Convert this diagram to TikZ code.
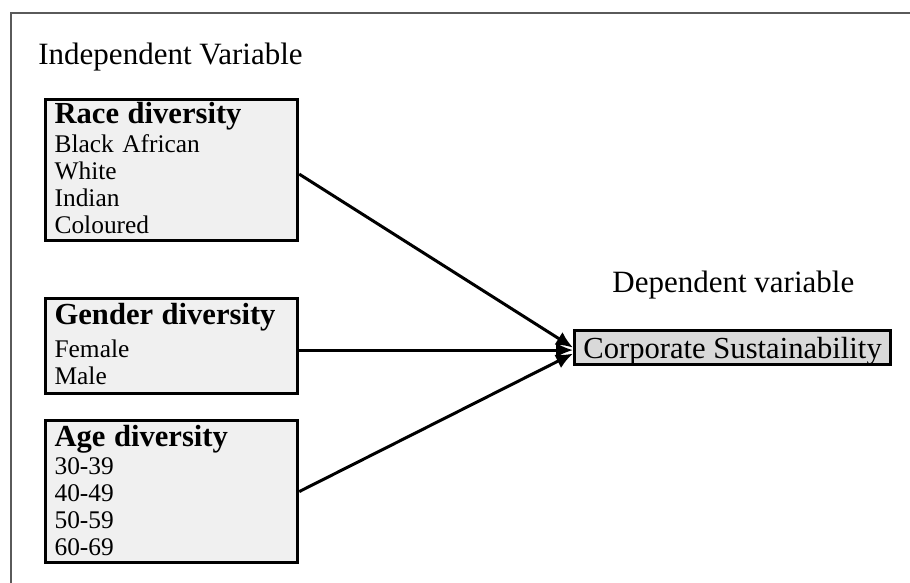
\documentclass[tikz,border=0pt]{standalone}
\usepackage{fontspec}
\setmainfont{Liberation Serif}
\usetikzlibrary{arrows.meta}
\definecolor{boxgray}{HTML}{F0F0F0}
\definecolor{depgray}{HTML}{D9D9D9}
\definecolor{framegray}{HTML}{5A5A5A}
\newcommand{\vhead}[1]{{\fontsize{15.3}{15}\selectfont\bfseries #1}}
\tikzset{
  frameline/.style={draw=framegray, line width=1.2pt},
  caption/.style={anchor=base west, inner sep=0pt, font=\fontsize{15.5}{16}\selectfont},
  varbox/.style={draw, line width=1.6pt, fill=boxgray, anchor=north west,
    align=left, text width=117pt, inner xsep=4.5pt, inner ysep=0pt,
    font=\fontsize{12.7}{13.5}\selectfont},
  depbox/.style={draw, line width=1.6pt, fill=depgray, anchor=north west,
    minimum width=158pt, inner xsep=3.5pt, inner ysep=0pt,
    text height=14pt, text depth=3pt, font=\fontsize{15.3}{16}\selectfont},
  link/.style={line width=1.5pt, -{Latex[length=8.5pt,width=7.5pt]}}
}

\begin{document}
\begin{tikzpicture}[x=0.5pt,y=-0.5pt]
	\useasboundingbox (0,0) rectangle (910,583);
	\draw[frameline] (11,583) -- (11,13) -- (910,13);
	% headings
	\node[caption] (indep) at (38,65) {Independent Variable};
	\node[caption] (dep) at (612,292) {Dependent variable};
	% independent variables
	\node[varbox, text height=12pt, text depth=58.5pt] (race) at (44,98)
		{\vhead{Race diversity}\\[1pt]Black African\\White\\Indian\\Coloured};
	\node[varbox, text height=13pt, text depth=34.5pt] (gender) at (44,297)
		{\vhead{Gender diversity}\\[3pt]Female\\Male};
	\node[varbox, text height=13pt, text depth=58pt] (age) at (44,419)
		{\vhead{Age diversity}\\[0.5pt]30-39\\40-49\\50-59\\60-69};
	% dependent variable
	\node[depbox] (cs) at (573,329) {Corporate Sustainability};
	% links
	\draw[link] ([yshift=-2pt]race.east) -- (cs.west);
	\draw[link] ([yshift=-2pt]gender.east) -- ([yshift=-2pt]gender.east -| cs.west);
	\draw[link] (age.east) -- ([yshift=-3pt]cs.west);
\end{tikzpicture}
\end{document}
